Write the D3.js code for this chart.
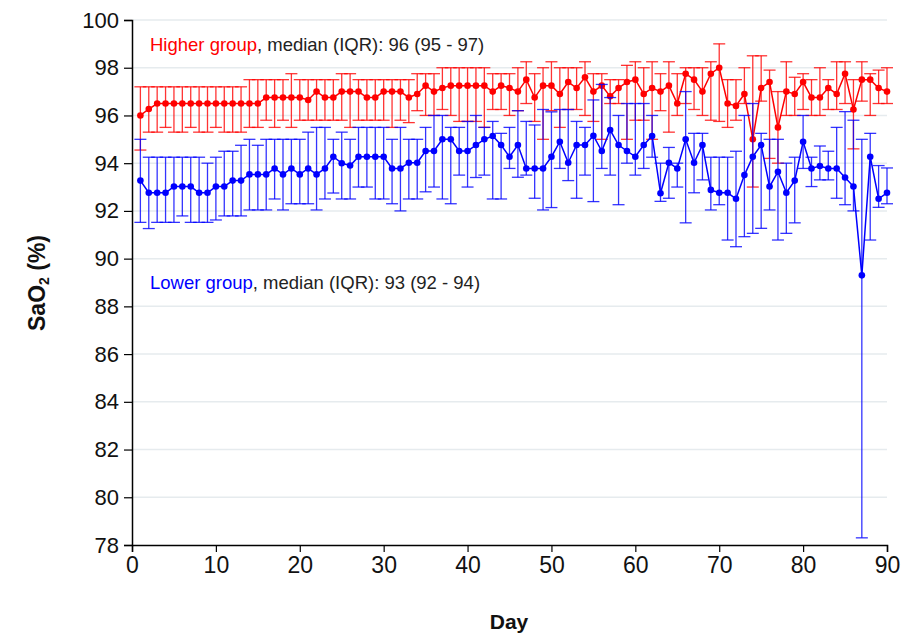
<!DOCTYPE html>
<html><head><meta charset="utf-8">
<script src="https://cdn.jsdelivr.net/npm/d3@7"></script>
<style>
body{margin:0;background:#fff;}
svg{display:block;font-family:"Liberation Sans",Arial,sans-serif;}
</style></head>
<body><svg id="c" width="904" height="636"></svg>
<script>
const days = d3.range(1, 91);
const yTicks = [78,80,82,84,86,88,90,92,94,96,98,100];
const xTicks = [0,10,20,30,40,50,60,70,80,90];

const hiMed = [96.0,96.27,96.5,96.5,96.5,96.5,96.5,96.5,96.5,96.5,
96.5,96.5,96.5,96.5,96.5,96.75,96.75,96.75,96.75,96.75,
96.65,97.0,96.75,96.75,97.0,97.0,97.0,96.75,96.75,97.0,
97.0,97.0,96.75,96.9,97.25,97.0,97.15,97.25,97.25,97.25,
97.25,97.25,97.0,97.25,97.15,97.0,97.5,96.75,97.25,97.25,
96.9,97.4,97.15,97.6,97.0,97.25,96.8,97.15,97.4,97.5,
96.9,97.15,97.0,97.25,96.5,97.75,97.5,97.0,97.75,98.0,
96.5,96.4,96.9,95.0,97.15,97.4,95.5,97.0,96.9,97.4,
96.75,96.75,97.15,96.9,97.75,96.25,97.5,97.5,97.15,97.0];
const hiQ3 = [97.2,97.2,97.2,97.2,97.2,97.2,97.2,97.2,97.2,97.2,
97.2,97.2,97.2,97.5,97.5,97.5,97.5,97.5,97.75,97.5,
97.5,97.5,97.5,97.5,97.75,97.75,97.5,97.5,97.5,97.5,
97.5,97.5,97.5,97.75,97.75,97.75,98.0,98.0,98.0,98.0,
98.0,98.0,97.75,97.75,97.75,98.0,98.25,97.75,98.0,98.25,
98.0,98.0,98.0,98.25,97.75,97.75,97.5,97.5,98.1,98.25,
98.0,98.25,97.75,98.25,97.75,98.0,98.0,98.0,98.25,99.0,
97.5,97.5,98.0,98.5,98.5,97.9,97.0,98.25,97.6,97.75,
97.5,98.0,97.5,98.25,98.25,97.5,98.25,97.75,97.9,98.0];
const hiQ1 = [94.55,95.3,95.3,95.5,95.3,95.3,95.5,95.3,95.3,95.5,
95.3,95.3,95.3,95.5,95.5,95.8,95.5,95.8,95.5,95.8,
95.8,95.8,95.8,95.8,95.8,95.5,95.8,95.8,95.8,95.8,
95.5,95.8,95.7,96.2,96.0,96.0,96.25,96.0,95.75,95.75,
95.75,95.5,96.25,96.25,96.0,96.2,96.5,95.75,95.0,96.2,
95.5,96.25,96.25,96.0,95.75,95.0,96.5,96.5,95.0,95.8,
95.8,95.0,96.2,95.3,96.0,96.5,96.25,96.0,95.8,95.75,
95.5,95.8,96.5,93.0,96.6,94.2,94.0,96.0,96.0,96.25,
96.0,96.0,96.25,96.25,96.5,94.6,96.6,96.0,96.5,96.5];

const loMed = [93.27,92.76,92.76,92.76,93.02,93.02,93.02,92.76,92.76,93.02,
93.02,93.27,93.27,93.53,93.53,93.53,93.78,93.53,93.78,93.53,
93.78,93.53,93.78,94.27,94.0,93.9,94.27,94.27,94.27,94.27,
93.78,93.78,94.02,94.02,94.51,94.51,95.0,95.0,94.51,94.51,
94.76,95.0,95.14,94.76,94.27,94.76,93.78,93.78,93.78,94.27,
94.9,94.02,94.76,94.76,95.15,94.51,95.39,94.76,94.51,94.27,
94.76,95.14,92.74,94.02,93.78,95.0,94.02,94.76,92.88,92.76,
92.76,92.51,93.5,94.27,94.76,93.02,93.64,92.76,93.27,94.9,
93.78,93.88,93.78,93.78,93.4,93.02,89.3,94.27,92.51,92.76];
const loQ3 = [95.0,94.25,94.25,94.25,94.25,94.25,94.25,94.25,94.0,94.25,
94.5,94.5,94.75,95.0,94.75,95.0,95.0,95.0,95.0,95.0,
95.3,95.5,95.5,95.0,95.3,95.0,95.5,95.5,95.5,95.5,
95.0,95.5,95.0,95.0,95.5,96.0,96.0,95.5,95.5,95.75,
96.0,95.5,95.75,95.25,95.5,96.2,95.75,95.6,96.25,96.15,
96.25,96.25,95.75,95.5,96.65,97.3,96.75,96.0,96.5,96.5,
96.5,96.0,94.0,94.66,94.0,97.0,95.25,95.25,94.25,94.25,
94.25,94.5,96.0,96.5,95.25,95.0,95.0,94.0,94.25,96.0,
94.25,94.72,94.5,95.5,96.16,95.8,95.0,95.25,93.9,93.8];
const loQ1 = [91.52,91.26,91.52,91.52,91.52,91.79,91.52,91.52,91.52,91.62,
91.79,91.79,91.79,92.04,92.04,92.04,92.5,92.04,92.3,92.3,
92.3,92.04,92.5,92.75,92.5,92.5,93.0,93.0,92.5,92.5,
92.3,92.0,92.5,92.5,92.8,93.0,92.5,92.3,93.5,93.0,
93.4,93.5,92.5,92.5,93.78,93.41,93.5,92.53,92.04,92.14,
93.78,93.27,92.53,93.5,92.39,93.78,93.5,92.26,94.0,93.5,
93.78,94.25,92.4,92.53,93.0,91.5,92.76,93.3,92.04,92.26,
90.78,90.5,90.92,91.06,91.27,92.04,90.78,91.06,91.5,93.78,
93.02,93.3,93.3,92.53,92.26,92.0,78.3,90.78,92.15,92.3];

const svg = d3.select("#c");
const x = d3.scaleLinear().domain([0, 90]).range([132, 887]);
const y = d3.scaleLinear().domain([78, 100]).range([545, 20]);

// gridlines
svg.append("g").selectAll("line").data(yTicks.filter(v => v > 78)).join("line")
  .attr("x1", 133).attr("x2", 887)
  .attr("y1", d => y(d)).attr("y2", d => y(d))
  .attr("stroke", "#e6ebee").attr("stroke-width", 1.5);

function series(med, q1, q3, color) {
  const g = svg.append("g");
  const data = days.map((d, i) => ({d, m: med[i], lo: q1[i], hi: q3[i]}));
  const eb = g.append("g").attr("stroke", color).attr("stroke-opacity", 0.8).attr("stroke-width", 1.3);
  eb.selectAll("line.v").data(data).join("line").attr("class", "v")
    .attr("x1", p => x(p.d)).attr("x2", p => x(p.d))
    .attr("y1", p => y(p.lo)).attr("y2", p => y(p.hi));
  eb.selectAll("line.t").data(data).join("line").attr("class", "t")
    .attr("x1", p => x(p.d) - 6).attr("x2", p => x(p.d) + 6)
    .attr("y1", p => y(p.hi)).attr("y2", p => y(p.hi));
  eb.selectAll("line.b").data(data).join("line").attr("class", "b")
    .attr("x1", p => x(p.d) - 6).attr("x2", p => x(p.d) + 6)
    .attr("y1", p => y(p.lo)).attr("y2", p => y(p.lo));
  g.append("path").datum(data)
    .attr("fill", "none").attr("stroke", color).attr("stroke-width", 1.5)
    .attr("d", d3.line().x(p => x(p.d)).y(p => y(p.m)));
  g.selectAll("circle").data(data).join("circle")
    .attr("cx", p => x(p.d)).attr("cy", p => y(p.m)).attr("r", 3.3).attr("fill", color);
}
series(hiMed, hiQ1, hiQ3, "#ff0000");
series(loMed, loQ1, loQ3, "#0000ff");

// axes
const yAxis = d3.axisLeft(y).tickValues(yTicks).tickSize(8).tickPadding(5);
const gy = svg.append("g").attr("transform", "translate(132,0)").call(yAxis);
gy.select(".domain").attr("stroke", "#000").attr("stroke-width", 1.5);
gy.selectAll(".tick line").attr("stroke", "#000").attr("stroke-width", 1.2);
gy.selectAll("text").attr("font-size", 22).attr("fill", "#111").attr("font-family", "Liberation Sans, Arial, sans-serif");

const xAxis = d3.axisBottom(x).tickValues(xTicks).tickSize(7).tickPadding(5);
const gx = svg.append("g").attr("transform", "translate(0,545)").call(xAxis);
gx.select(".domain").attr("stroke", "#000").attr("stroke-width", 1.5);
gx.selectAll(".tick line").attr("stroke", "#000").attr("stroke-width", 1.2);
gx.selectAll("text").attr("font-size", 23).attr("fill", "#111")
  .attr("font-family", "Liberation Sans Narrow, Arial Narrow, Liberation Sans, sans-serif");

// titles
svg.append("text").attr("x", 509).attr("y", 629).attr("text-anchor", "middle")
  .attr("font-size", 21).attr("font-weight", "bold").attr("fill", "#111").text("Day");
const yt = svg.append("text").attr("transform", "translate(45,283) rotate(-90)")
  .attr("text-anchor", "middle").attr("font-size", 23).attr("font-weight", "bold").attr("fill", "#111");
yt.append("tspan").text("SaO");
yt.append("tspan").attr("font-size", 14).attr("dy", 4).text("2");
yt.append("tspan").attr("dy", -4).text(" (%)");

// annotations
const a1 = svg.append("text").attr("x", 150).attr("y", 51).attr("font-size", 18.5);
a1.append("tspan").attr("fill", "#ff0000").text("Higher group");
a1.append("tspan").attr("fill", "#222").text(", median (IQR): 96 (95 - 97)");
const a2 = svg.append("text").attr("x", 150).attr("y", 289).attr("font-size", 18.5);
a2.append("tspan").attr("fill", "#0000ff").text("Lower group");
a2.append("tspan").attr("fill", "#222").text(", median (IQR): 93 (92 - 94)");
</script></body></html>
